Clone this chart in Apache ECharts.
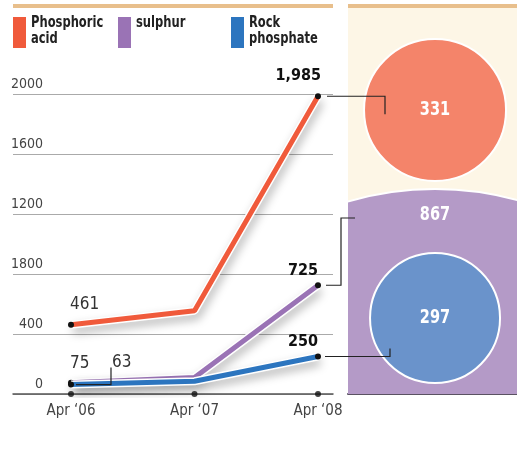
<!DOCTYPE html>
<html>
<head>
<meta charset="utf-8">
<script src="https://cdn.jsdelivr.net/npm/echarts@6/dist/echarts.min.js"></script>
<style>
  html, body { margin: 0; padding: 0; background: #fff; }
  #chart { width: 517px; height: 456px; }
</style>
</head>
<body>
<div id="chart"></div>
<script>
// values
const dates = ['Apr \u201806', 'Apr \u201807', 'Apr \u201808'];
const seriesNames = ['Phosphoric acid', 'sulphur', 'Rock phosphate'];
const phosphoricAcid = [461, 555, 1985];
const sulphur = [75, 110, 725];
const rockPhosphate = [63, 85, 250];
const yTickLabels = ['0', '400', '1800', '1200', '1600', '2000'];
const bubbleValues = [331, 867, 297];

const FONT = '"DejaVu Sans Condensed", "Liberation Sans Narrow", sans-serif';
const lineColors = ['#F05A3B', '#9A73B5', '#2C75BF'];
const bubbleColors = ['#F4846A', '#B49AC7', '#6A93CB'];
// bubble layout inside the right panel: [x, y] in 0..1 panel units, radius, label y offset
const bubbleLayout = [
  { pos: [0.515, 0.736], r: 71, labelDy: 0 },
  { pos: [0.515, -0.272], r: 310, labelDy: -284 },
  { pos: [0.515, 0.197], r: 65, labelDy: 0 }
];

const chart = echarts.init(document.getElementById('chart'), null, { renderer: 'canvas' });

function pointLabel(text, opts) {
  return Object.assign({
    show: true,
    formatter: text,
    position: 'top',
    fontFamily: FONT,
    fontSize: 17,
    color: '#333',
    lineHeight: 17
  }, opts);
}

const boldEnd = { fontWeight: 'bold', color: '#111', align: 'right', fontSize: 16 };

const lineData = [
  phosphoricAcid.map((v, i) => ({
    value: [i, v],
    label: i === 0 ? pointLabel(String(v), { align: 'left', offset: [-1, 0], distance: 9 })
      : i === 2 ? pointLabel(v.toLocaleString('en-US'), Object.assign({ offset: [3, 0], distance: 9 }, boldEnd))
      : { show: false }
  })),
  sulphur.map((v, i) => ({
    value: [i, v],
    label: i === 0 ? pointLabel(String(v), { align: 'left', offset: [-1, 0], distance: 8 })
      : i === 2 ? pointLabel(v.toLocaleString('en-US'), Object.assign({ offset: [0, 0], distance: 3 }, boldEnd))
      : { show: false }
  })),
  rockPhosphate.map((v, i) => ({
    value: [i, v],
    label: i === 0 ? pointLabel(String(v), { align: 'left', offset: [41, 0], distance: 10 })
      : i === 2 ? pointLabel(v.toLocaleString('en-US'), Object.assign({ offset: [0, 0], distance: 3 }, boldEnd))
      : { show: false }
  }))
];

const series = [];
lineData.forEach((data, k) => {
  // white casing with soft shadow under each line
  series.push({
    type: 'line',
    xAxisIndex: 0,
    yAxisIndex: 0,
    data: data.map(d => d.value),
    showSymbol: false,
    silent: true,
    lineStyle: {
      color: '#fff',
      width: 8,
      shadowBlur: 10,
      shadowColor: 'rgba(0,0,0,0.28)',
      shadowOffsetX: 2,
      shadowOffsetY: 5
    },
    z: 2 + k * 2
  });
  series.push({
    name: seriesNames[k],
    type: 'line',
    xAxisIndex: 0,
    yAxisIndex: 0,
    data: data,
    symbol: 'circle',
    symbolSize: (val, params) => (params.dataIndex === 1 ? 0 : 6),
    showAllSymbol: true,
    itemStyle: { color: '#111', borderWidth: 0 },
    lineStyle: { color: lineColors[k], width: 5 },
    silent: true,
    z: 3 + k * 2
  });
});

// dots on the date axis
series.push({
  type: 'scatter',
  xAxisIndex: 0,
  yAxisIndex: 0,
  data: dates.map((d, i) => [i, 0]),
  symbolSize: 6,
  itemStyle: { color: '#111' },
  clip: false,
  silent: true,
  z: 10
});

// bubbles in the right panel
series.push({
  type: 'custom',
  xAxisIndex: 1,
  yAxisIndex: 1,
  clip: true,
  silent: true,
  data: bubbleValues.map((v, i) => [bubbleLayout[i].pos[0], bubbleLayout[i].pos[1], v]),
  renderItem: function(params, api) {
    const i = params.dataIndex;
    const pt = api.coord([api.value(0), api.value(1)]);
    const lay = bubbleLayout[i];
    return {
      type: 'group',
      children: [
        {
          type: 'circle',
          shape: { cx: pt[0], cy: pt[1], r: lay.r },
          style: { fill: bubbleColors[i], stroke: '#fff', lineWidth: 2 }
        },
        {
          type: 'text',
          x: pt[0],
          y: pt[1] + lay.labelDy,
          scaleX: 0.85,
          style: {
            text: String(api.value(2)),
            fill: '#fff',
            font: 'bold 19px ' + FONT,
            align: 'center',
            verticalAlign: 'middle'
          }
        }
      ]
    };
  }
});

chart.setOption({
  animation: false,
  backgroundColor: '#fff',
  grid: [
    { left: 13, right: 184, top: 94, bottom: 62 },
    { left: 348, right: 0, top: 8, bottom: 62, show: true, backgroundColor: '#FDF6E6', borderWidth: 0 }
  ],
  xAxis: [
    {
      type: 'value',
      gridIndex: 0,
      min: -0.4696,
      max: 2.1215,
      splitLine: { show: false },
      axisTick: { show: false },
      axisLine: { show: true, onZero: false, lineStyle: { color: '#555', width: 1.5 } },
      axisLabel: {
        customValues: [0, 1, 2],
        formatter: v => dates[Math.round(v)],
        color: '#444',
        fontFamily: FONT,
        fontSize: 15,
        margin: 10
      }
    },
    {
      type: 'value',
      gridIndex: 1,
      min: 0,
      max: 1,
      splitLine: { show: false },
      axisTick: { show: false },
      axisLabel: { show: false },
      axisLine: { show: true, onZero: false, lineStyle: { color: '#5a5262', width: 2 } }
    }
  ],
  yAxis: [
    {
      type: 'value',
      gridIndex: 0,
      min: 0,
      max: 2000,
      interval: 400,
      axisLine: { show: false },
      axisTick: { show: false },
      splitLine: { lineStyle: { color: '#aaa', width: 1 } },
      axisLabel: {
        formatter: v => yTickLabels[Math.round(v / 400)],
        margin: -30,
        align: 'right',
        verticalAlign: 'bottom',
        padding: [0, 0, 3, 0],
        color: '#444',
        fontFamily: FONT,
        fontSize: 14
      }
    },
    { type: 'value', gridIndex: 1, min: 0, max: 1, show: false }
  ],
  series: series
});

// legend, top bands and connector lines
const legendX = [13, 118, 231];
const graphics = [
  { type: 'rect', shape: { x: 13, y: 4, width: 320, height: 4 }, style: { fill: '#E8BF8C' }, silent: true },
  { type: 'rect', shape: { x: 348, y: 4, width: 169, height: 4 }, style: { fill: '#E8BF8C' }, silent: true }
];
seriesNames.forEach((name, k) => {
  graphics.push({
    type: 'rect',
    shape: { x: legendX[k], y: 17, width: 13, height: 31 },
    style: { fill: lineColors[k] },
    silent: true
  });
  graphics.push({
    type: 'text',
    x: legendX[k] + 18,
    y: 15,
    scaleX: 0.8,
    style: {
      text: name.replace(' ', '\n'),
      font: 'bold 16px ' + FONT,
      lineHeight: 16,
      fill: '#222'
    },
    silent: true
  });
});

const ends = lineData.map((d, k) => chart.convertToPixel({ xAxisIndex: 0, yAxisIndex: 0 }, [2, [phosphoricAcid, sulphur, rockPhosphate][k][2]]));
const start63 = chart.convertToPixel({ xAxisIndex: 0, yAxisIndex: 0 }, [0, rockPhosphate[0]]);
const lineStyle = { stroke: '#222', lineWidth: 1.2, fill: null };
const connectors = [
  [[ends[0][0] + 9, ends[0][1]], [385, ends[0][1]], [385, ends[0][1] + 18]],
  [[ends[1][0] + 8, ends[1][1]], [341, ends[1][1]], [341, 218], [355, 218]],
  [[ends[2][0] + 7, ends[2][1]], [390, ends[2][1]], [390, ends[2][1] - 8]],
  [[start63[0] + 5, start63[1]], [start63[0] + 40, start63[1]], [start63[0] + 40, start63[1] - 17]]
];
connectors.forEach(pts => {
  graphics.push({ type: 'polyline', shape: { points: pts }, style: lineStyle, silent: true, z: 20 });
});

chart.setOption({ graphic: graphics });
window.addEventListener('resize', () => chart.resize());
</script>
</body>
</html>
